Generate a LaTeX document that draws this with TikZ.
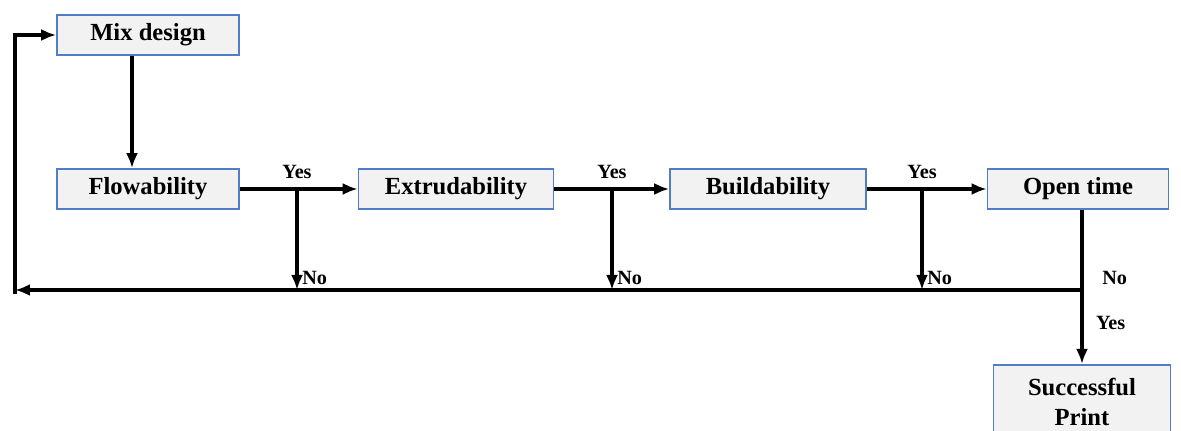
\documentclass[tikz,border=0pt]{standalone}
\usepackage{fontspec}
\setmainfont{Liberation Serif}
\usetikzlibrary{arrows.meta}
\definecolor{boxline}{RGB}{80,125,200}
\begin{document}
\begin{tikzpicture}[x=0.02cm, y=-0.02cm, >={Latex[length=0.3cm,width=0.24cm]}, line width=2pt,
    test/.style={draw=boxline, line width=0.9pt, fill=gray!10, minimum height=0.8cm,
      font=\bfseries\fontsize{14}{17}\selectfont},
    lab/.style={font=\bfseries\fontsize{11.5}{13}\selectfont, inner sep=2pt}]
    \useasboundingbox (0,0) rectangle (1181,431);
    \clip (0,0) rectangle (1181,431);

    % boxes
    \node[test, minimum width=3.64cm] (mix) at (148,35) {Mix design};
    \node[test, minimum width=3.64cm] (flow) at (148,189) {Flowability};
    \node[test, minimum width=3.9cm] (extr) at (456,189) {Extrudability};
    \node[test, minimum width=3.92cm] (build) at (768,189) {Buildability};
    \node[test, minimum width=3.62cm] (open) at (1078,189) {Open time};
    \node[test, minimum width=3.54cm, minimum height=1.5cm, align=center, anchor=north] (print) at (1082,364) {Successful\\Print};

    % junctions
    \coordinate (j1) at (297,189);
    \coordinate (j2) at (612,189);
    \coordinate (j3) at (922,189);
    \coordinate (split) at (1082,290);
    \coordinate (ret) at (15,290);

    % main line
    \draw[->] ([xshift=-0.32cm]mix.south) -- ([xshift=-0.32cm]flow.north);
    \draw[->] (flow) -- (extr);
    \draw[->] (extr) -- (build);
    \draw[->] (build) -- (open);

    % yes / no
    \draw[->] (j1) node[lab, above=3pt] {Yes} -- (j1 |- ret) node[lab, anchor=south west] {No};
    \draw[->] (j2) node[lab, above=3pt] {Yes} -- (j2 |- ret) node[lab, anchor=south west] {No};
    \draw[->] (j3) node[lab, above=3pt] {Yes} -- (j3 |- ret) node[lab, anchor=south west] {No};

    \draw (open.south -| split) -- (split);
    \node[lab, anchor=south west] at ([xshift=0.3cm]split) {No};
    \draw[->] (split) -- node[lab, right=5pt, pos=0.45] {Yes} (print);

    % back to mix design
    \draw[->] (split) -- (ret);
    \draw[->] ([yshift=-0.08cm]ret) |- (mix.west);
\end{tikzpicture}
\end{document}
